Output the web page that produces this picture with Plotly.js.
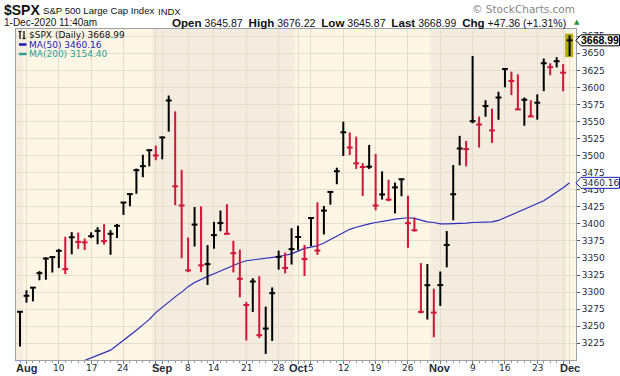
<!DOCTYPE html>
<html><head><meta charset="utf-8">
<script src="https://cdn.plot.ly/plotly-3.0.1.min.js"></script>
<style>html,body{margin:0;padding:0;background:#fff;}#c{width:620px;height:376px;}</style>
</head><body><div id="c"></div>
<script>
// ---- data (S&P 500 daily, Jul 31 - Dec 1 2020) ----
const dates = ["2020-07-31",
"2020-08-03","2020-08-04","2020-08-05","2020-08-06","2020-08-07","2020-08-10","2020-08-11","2020-08-12","2020-08-13","2020-08-14","2020-08-17","2020-08-18","2020-08-19","2020-08-20","2020-08-21","2020-08-24","2020-08-25","2020-08-26","2020-08-27","2020-08-28","2020-08-31",
"2020-09-01","2020-09-02","2020-09-03","2020-09-04","2020-09-08","2020-09-09","2020-09-10","2020-09-11","2020-09-14","2020-09-15","2020-09-16","2020-09-17","2020-09-18","2020-09-21","2020-09-22","2020-09-23","2020-09-24","2020-09-25","2020-09-28","2020-09-29","2020-09-30",
"2020-10-01","2020-10-02","2020-10-05","2020-10-06","2020-10-07","2020-10-08","2020-10-09","2020-10-12","2020-10-13","2020-10-14","2020-10-15","2020-10-16","2020-10-19","2020-10-20","2020-10-21","2020-10-22","2020-10-23","2020-10-26","2020-10-27","2020-10-28","2020-10-29","2020-10-30",
"2020-11-02","2020-11-03","2020-11-04","2020-11-05","2020-11-06","2020-11-09","2020-11-10","2020-11-11","2020-11-12","2020-11-13","2020-11-16","2020-11-17","2020-11-18","2020-11-19","2020-11-20","2020-11-23","2020-11-24","2020-11-25","2020-11-27","2020-11-30",
"2020-12-01"];
const high = [3272.17,
3302.73,3306.84,3330.77,3351.03,3352.54,3363.29,3381.01,3387.89,3387.24,3378.51,3387.59,3395.06,3399.54,3390.80,3399.96,3432.09,3444.21,3481.07,3501.38,3509.23,3514.77,
3528.03,3588.11,3564.85,3479.15,3379.97,3424.77,3425.55,3368.95,3402.93,3419.48,3428.92,3375.17,3362.27,3285.57,3320.31,3323.35,3278.70,3306.88,3360.74,3357.92,3393.56,
3397.18,3369.10,3409.57,3431.56,3426.26,3447.28,3482.34,3549.85,3534.01,3527.94,3489.08,3515.76,3502.42,3476.93,3464.86,3460.53,3466.46,3441.42,3409.51,3342.48,3341.05,3304.93,
3330.14,3389.49,3486.25,3529.05,3521.58,3645.99,3557.22,3581.16,3569.02,3593.66,3628.51,3623.11,3619.09,3585.22,3581.23,3589.81,3642.31,3635.41,3644.31,3634.18,
3676.22];
const low = [3220.26,
3284.53,3286.37,3317.37,3318.14,3328.72,3335.44,3326.44,3355.46,3363.35,3361.64,3379.22,3370.15,3369.66,3354.69,3379.31,3413.13,3425.84,3444.15,3468.35,3484.32,3493.25,
3494.60,3535.23,3427.41,3349.63,3329.27,3366.84,3329.25,3310.47,3363.56,3389.25,3384.45,3328.82,3292.40,3229.10,3270.95,3232.57,3209.45,3228.44,3332.91,3327.54,3340.47,
3361.39,3323.69,3367.27,3354.54,3384.56,3428.15,3458.07,3499.61,3500.86,3480.55,3440.89,3480.45,3419.93,3435.65,3433.06,3415.34,3440.45,3364.86,3388.71,3268.89,3259.82,3233.94,
3279.74,3336.25,3405.17,3485.74,3484.34,3547.48,3511.91,3557.00,3518.58,3552.57,3600.16,3588.68,3567.33,3543.84,3556.85,3552.77,3594.52,3617.76,3629.33,3594.39,
3645.87];
const close = [3271.12,
3294.61,3306.51,3327.77,3349.16,3351.28,3360.47,3333.69,3380.35,3373.43,3372.85,3381.99,3389.78,3374.85,3385.51,3397.16,3431.28,3443.62,3478.73,3484.55,3508.01,3500.31,
3526.65,3580.84,3455.06,3426.96,3331.84,3398.96,3339.19,3340.97,3383.54,3401.20,3385.49,3357.01,3319.47,3281.06,3315.57,3236.92,3246.59,3298.46,3351.60,3335.47,3363.00,
3380.80,3348.42,3408.60,3360.97,3419.44,3446.83,3477.14,3534.22,3511.93,3488.67,3483.34,3483.81,3426.92,3443.12,3435.56,3453.49,3465.39,3400.97,3390.68,3271.03,3310.11,3269.96,
3310.24,3369.16,3443.44,3510.45,3509.44,3550.50,3545.53,3572.66,3537.01,3585.15,3626.91,3609.53,3567.79,3581.87,3557.54,3577.59,3635.41,3629.65,3638.35,3621.63,
3668.99];
const prevClose = 3246.22;
// MA(50) (null where below the visible range)
const ma50 = [null,null,null,null,null,null,null,null,null,
3196,3200,3204,3207,3211,3215,3222,3229,3237,3244,3252,3260,3270,
3278,3286,3293,3300,3308,3314,3319,3323,3327,3331,3336,3340,3343,3346,3347,3348,3349,3350,3352,3354,3356,
3360,3364,3366,3368,3372,3377,3382,3387,3392,3395,3398,3400,3402,3403,3405,3407,3408,3409,3408,3405,3403,3402,
3400,3400,3400,3401,3401,3402,3402,3403,3403,3405,3409,3413,3417,3421,3425,3429,3434,3440,3446,3453,
3460.16];
// x tick (grid) dates and their labels
const tickDates = ["2020-08-03","2020-08-10","2020-08-17","2020-08-24","2020-08-31","2020-09-01","2020-09-08","2020-09-14","2020-09-21","2020-09-28","2020-10-01","2020-10-05","2020-10-12","2020-10-19","2020-10-26","2020-11-02","2020-11-09","2020-11-16","2020-11-23","2020-11-30","2020-12-01"];
const tickText  = ["Aug","10","17","24","","Sep","8","14","21","28","Oct","5","12","19","26","Nov","9","16","23","","Dec"];
const monthLabels = ["Aug","Sep","Oct","Nov","Dec"];
const yTicks = [3225,3250,3275,3300,3325,3350,3375,3400,3425,3450,3475,3500,3525,3550,3575,3600,3625,3650,3675];
const lastInfo = {open:"3645.87", high:"3676.22", low:"3645.87", last:"3668.99", chg:"+47.36 (+1.31%)"};
const maLabels = ["MA(50) 3460.16","MA(200) 3154.40"];

// ---- geometry ----
const L=16, R=576, T=29, B=360;
const px = v => (v-L)/(R-L);
const py = v => (B-v)/(B-T);
const idx = dates.map((d,i)=>i);
const N = dates.length;

// bars
const up={x:[],y:[]}, dn={x:[],y:[]};
for(let i=0;i<N;i++){
  const pc = i? close[i-1] : prevClose;
  const s = close[i]>=pc ? up : dn;
  s.x.push(i,i,null,i-0.45,i+0.45,null);
  s.y.push(low[i],high[i],null,close[i],close[i],null);
}
const tickIdx = tickDates.map(d=>dates.indexOf(d));

// month shading (Jul, Sep, Nov darker)
const shapes=[];
const mStarts=[0];
for(let i=1;i<N;i++){ if(dates[i].slice(5,7)!==dates[i-1].slice(5,7)) mStarts.push(i); }
mStarts.forEach((s,k)=>{
  if(k%2===0){
    const e = k+1<mStarts.length ? mStarts[k+1] : N;
    shapes.push({type:'rect',xref:'x',yref:'paper',x0:s-1.5,x1:e-0.5,y0:0,y1:1,fillcolor:'#F4EDDF',line:{width:0},layer:'below'});
  }
});
// highlight of the latest bar
shapes.push({type:'rect',xref:'x',yref:'y',x0:N-1-0.7,x1:N-1+0.55,y0:low[N-1]-1.5,y1:high[N-1]+2.5,fillcolor:'#B5AE0A',line:{width:0},layer:'between'});
function yOf(v){return 53.3 + (3650-v)*0.68235;}
// price flags on the right
function flag(val,color){
  const yc = yOf(val);
  return {type:'path',xref:'paper',yref:'paper',
    path:`M ${px(576)} ${py(yc)} L ${px(581)} ${py(yc-5.5)} L ${px(619.5)} ${py(yc-5.5)} L ${px(619.5)} ${py(yc+5.5)} L ${px(581)} ${py(yc+5.5)} Z`,
    fillcolor:'#ffffff',line:{color:color,width:1},layer:'above'};
}
shapes.push(flag(close[N-1],'#000000'));
shapes.push(flag(ma50[N-1],'#1a1ab8'));
// legend swatches
function seg(x0,y0,x1,y1,c,w){shapes.push({type:'line',xref:'paper',yref:'paper',x0:px(x0),x1:px(x1),y0:py(y0),y1:py(y1),line:{color:c,width:w}});}
seg(19,44.5,26.5,44.5,'#1a1ab8',2.5);
seg(19,54,26.5,54,'#2aa198',2.5);
// small bar icon for price series
seg(20,31,20,39,'#111',1.3); seg(18.5,31.5,21.5,31.5,'#111',1.3);
seg(24,31,24,39,'#111',1.3); seg(22.5,38.5,25.5,38.5,'#111',1.3);

const ann=[];
function A(text,x,y,opt){ann.push(Object.assign({text:text,xref:'paper',yref:'paper',x:px(x),y:py(y),showarrow:false,xanchor:'left',yanchor:'middle',font:{family:'Liberation Sans, Arial',size:11,color:'#111'}},opt||{}));}
A('<b>$SPX</b>',2,10,{font:{family:'Liberation Sans, Arial',size:14,color:'#111'}});
A('S&P 500 Large Cap Index',40.5,10.5,{font:{family:'Liberation Sans, Arial',size:9.6,color:'#111'}});
A('INDX',156,11,{font:{family:'Liberation Sans, Arial',size:9.5,color:'#111'}});
A('© StockCharts.com',577,9,{xanchor:'right',font:{family:'DejaVu Sans',size:10.5,color:'#888'}});
A('1-Dec-2020 11:40am',2,22,{font:{family:'Liberation Sans, Arial',size:10,color:'#111'}});
const lb = t=>'<b><span style="font-size:11.6px">'+t+'</span></b>';
A(lb('Open')+' '+lastInfo.open+'&nbsp;&nbsp;'+lb('High')+' '+lastInfo.high+'&nbsp;&nbsp;'+lb('Low')+' '+lastInfo.low+'&nbsp;&nbsp;'+lb('Last')+' '+lastInfo.last+'&nbsp;&nbsp;'+lb('Chg')+' '+lastInfo.chg,
  568,22,{xanchor:'right',font:{family:'Liberation Sans, Arial',size:10.55,color:'#111'}});
A('▲',571.5,22,{font:{family:'DejaVu Sans',size:7,color:'#2e8b2e'}});
// legend text
A('$SPX (Daily) '+close[N-1].toFixed(2),27,35,{font:{family:'DejaVu Sans',size:9,color:'#111'}});
A(maLabels[0],27,44.5,{font:{family:'DejaVu Sans',size:9,color:'#1a1ab8'}});
A(maLabels[1],27,54,{font:{family:'DejaVu Sans',size:9,color:'#2aa198'}});
// flag texts
A('<b>'+close[N-1].toFixed(2)+'</b>',600,yOf(close[N-1]),{xanchor:'center',font:{family:'Liberation Sans, Arial',size:10.5,color:'#000'}});
A(ma50[N-1].toFixed(2),600,yOf(ma50[N-1]),{xanchor:'center',font:{family:'DejaVu Sans',size:9,color:'#1c2b3c'}});
// x tick labels
tickIdx.forEach((ix,k)=>{
  const t = tickText[k]; if(!t) return;
  const isM = monthLabels.includes(t);
  ann.push({text:isM?'<b>'+t+'</b>':t,xref:'x',yref:'paper',x:ix,y:py(367.5),showarrow:false,xanchor:'center',yanchor:'middle',
    font:isM?{family:'Liberation Sans, Arial',size:11,color:'#1c2b3c'}:{family:'DejaVu Sans',size:9,color:'#1c2b3c'}});
});

const traces=[
 {x:idx,y:ma50,type:'scatter',mode:'lines',line:{color:'#2b2bbf',width:1.2},hoverinfo:'skip'},
 {x:up.x,y:up.y,type:'scatter',mode:'lines',line:{color:'#000000',width:2},hoverinfo:'skip'},
 {x:dn.x,y:dn.y,type:'scatter',mode:'lines',line:{color:'#d2143a',width:2},hoverinfo:'skip'}
];
const layout={
 width:620,height:376,margin:{l:L,r:620-R,t:T,b:376-B,pad:0},
 paper_bgcolor:'#ffffff',plot_bgcolor:'#FDF6E5',showlegend:false,
 font:{family:'DejaVu Sans',size:9,color:'#1c2b3c'},
 xaxis:{range:[-0.62,85.99],tickmode:'array',tickvals:tickIdx,showticklabels:false,showgrid:true,gridcolor:'#E6DECC',gridwidth:1,
   zeroline:false,showline:true,mirror:true,linecolor:'#9aa2a8',linewidth:1,ticks:'outside',ticklen:3,tickcolor:'#777',
   minor:{tickmode:'linear',tick0:0,dtick:1,ticks:'outside',ticklen:2,tickcolor:'#999',showgrid:false},fixedrange:true},
 yaxis:{range:[3200.5,3685.6],side:'right',tickmode:'array',tickvals:yTicks,showgrid:true,gridcolor:'#E6DECC',gridwidth:1,
   zeroline:false,showline:true,mirror:true,linecolor:'#9aa2a8',linewidth:1,ticks:'outside',ticklen:3,tickcolor:'#555',
   tickfont:{family:'DejaVu Sans',size:9,color:'#1c2b3c'},fixedrange:true},
 shapes:shapes,annotations:ann
};
Plotly.newPlot('c',traces,layout,{staticPlot:true,displayModeBar:false});
</script></body></html>
